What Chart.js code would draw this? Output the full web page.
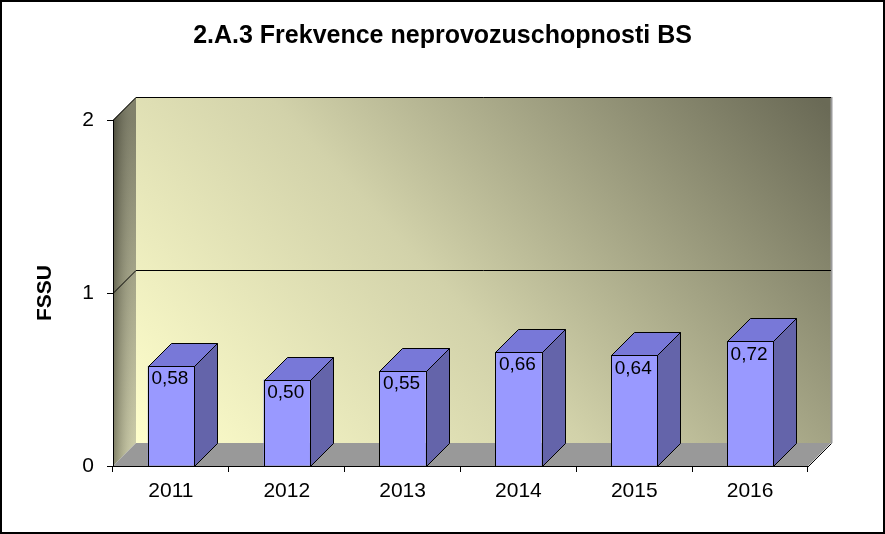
<!DOCTYPE html>
<html>
<head>
<meta charset="utf-8">
<script src="https://cdn.jsdelivr.net/npm/chart.js@4"></script>
<style>
  html, body { margin: 0; padding: 0; background: #fff; }
  canvas { display: block; }
</style>
</head>
<body>
<canvas id="c" width="885" height="534"></canvas>
<script>
const categories = ['2011', '2012', '2013', '2014', '2015', '2016'];
const values = [0.58, 0.50, 0.55, 0.66, 0.64, 0.72];
const yTicks = [0, 1, 2];
const chartTitle = '2.A.3 Frekvence neprovozuschopnosti BS';
const yAxisTitle = 'FSSU';

const FONT = "'Liberation Sans', Arial, sans-serif";
const DEPTH = 23;

const threeD = {
  id: 'threeD',
  beforeDraw(chart) {
    const ctx = chart.ctx;
    const a = chart.chartArea;
    const y = chart.scales.y;
    const L = a.left, R = a.right, T = a.top, B = a.bottom, D = DEPTH;
    ctx.save();
    ctx.fillStyle = '#fff';
    ctx.fillRect(0, 0, chart.width, chart.height);

    // back wall
    let g = ctx.createLinearGradient(L + D, B - D, R + D - 150, T - D - 150);
    g.addColorStop(0, '#FFFFCC');
    g.addColorStop(0.45, '#D2D2AA');
    g.addColorStop(1, '#6A6A56');
    ctx.fillStyle = g;
    ctx.fillRect(L + D, T - D, R - L, B - T);

    // left wall
    g = ctx.createLinearGradient(0, T, 0, B);
    g.addColorStop(0, '#6A6A55');
    g.addColorStop(1, '#C8C8A2');
    ctx.beginPath();
    ctx.moveTo(L, T); ctx.lineTo(L + D, T - D); ctx.lineTo(L + D, B - D); ctx.lineTo(L, B); ctx.closePath();
    ctx.fillStyle = g; ctx.fill();
    g = ctx.createLinearGradient(L, 0, L + D, 0);
    g.addColorStop(0, 'rgba(40,40,30,0.45)');
    g.addColorStop(1, 'rgba(255,255,230,0.15)');
    ctx.fillStyle = g; ctx.fill();

    // floor
    ctx.beginPath();
    ctx.moveTo(L, B); ctx.lineTo(L + D, B - D); ctx.lineTo(R + D, B - D); ctx.lineTo(R, B); ctx.closePath();
    ctx.fillStyle = '#999999'; ctx.fill();
    ctx.beginPath();
    ctx.moveTo(R + 0.5, B + 0.5); ctx.lineTo(R + D + 0.5, B - D + 0.5);
    ctx.strokeStyle = '#000'; ctx.lineWidth = 1; ctx.stroke();

    // back wall right edge
    ctx.beginPath();
    ctx.moveTo(R + D + 0.5, T - D); ctx.lineTo(R + D + 0.5, B - D);
    ctx.strokeStyle = '#9a9a9a'; ctx.lineWidth = 2; ctx.stroke();

    // gridlines
    ctx.strokeStyle = '#000'; ctx.lineWidth = 1;
    yTicks.forEach(v => {
      if (v === 0) return;
      const yp = Math.round(y.getPixelForValue(v)) + 0.5;
      ctx.beginPath();
      ctx.moveTo(L, yp); ctx.lineTo(L + D, yp - D); ctx.lineTo(R + D, yp - D);
      ctx.stroke();
    });
    ctx.restore();
  },
  afterDatasetsDraw(chart) {
    const ctx = chart.ctx;
    const D = DEPTH;
    const meta = chart.getDatasetMeta(0);
    ctx.save();
    ctx.lineWidth = 1;
    ctx.strokeStyle = '#000';
    ctx.lineJoin = 'round';
    meta.data.forEach((bar, i) => {
      const p = bar.getProps(['x', 'y', 'base', 'width'], true);
      const l = Math.round(p.x - p.width / 2) + 0.5;
      const r = Math.round(p.x + p.width / 2) + 0.5;
      const t = Math.round(p.y) + 0.5;
      const b = Math.round(p.base) + 0.5;
      // side
      ctx.beginPath();
      ctx.moveTo(r, t); ctx.lineTo(r + D, t - D); ctx.lineTo(r + D, b - D); ctx.lineTo(r, b); ctx.closePath();
      ctx.fillStyle = '#6464AA'; ctx.fill(); ctx.stroke();
      // top
      ctx.beginPath();
      ctx.moveTo(l, t); ctx.lineTo(l + D, t - D); ctx.lineTo(r + D, t - D); ctx.lineTo(r, t); ctx.closePath();
      ctx.fillStyle = '#7878D8'; ctx.fill(); ctx.stroke();
      // front outline
      ctx.strokeRect(l, t, r - l, b - t);
      // label
      ctx.fillStyle = '#000';
      ctx.font = '19px ' + FONT;
      ctx.textAlign = 'center';
      ctx.textBaseline = 'middle';
      ctx.fillText(values[i].toFixed(2).replace('.', ','), p.x - 1, p.y + 13);
    });
    ctx.restore();
  },
  afterDraw(chart) {
    const ctx = chart.ctx;
    ctx.save();
    ctx.strokeStyle = '#000';
    ctx.lineWidth = 2;
    ctx.strokeRect(1, 1, chart.width - 2, chart.height - 2);
    ctx.restore();
  }
};

new Chart(document.getElementById('c'), {
  type: 'bar',
  data: {
    labels: categories,
    datasets: [{
      data: values,
      backgroundColor: '#9999FF',
      borderWidth: 0,
      barPercentage: 0.4,
      categoryPercentage: 1.0
    }]
  },
  options: {
    responsive: false,
    animation: false,
    devicePixelRatio: 1,
    layout: { padding: 0 },
    plugins: {
      legend: { display: false },
      tooltip: { enabled: false },
      title: {
        display: true,
        text: chartTitle,
        color: '#000',
        font: { family: FONT, size: 25, weight: 'bold', lineHeight: 1.2 },
        padding: { top: 21, bottom: 69 }
      }
    },
    scales: {
      x: {
        afterFit(s) { s.height = 68; },
        grid: { display: true, drawOnChartArea: false, drawTicks: true, tickLength: 6, color: '#000', offset: true },
        border: { display: true, color: '#000', width: 1 },
        ticks: { color: '#000', font: { family: FONT, size: 21 }, padding: 7, maxRotation: 0 }
      },
      y: {
        min: 0, max: 2,
        afterFit(s) { s.width = 113; },
        afterBuildTicks(s) { s.ticks = yTicks.map(v => ({ value: v })); },
        grid: { display: true, drawOnChartArea: false, drawTicks: true, tickLength: 6, color: '#000' },
        border: { display: true, color: '#000', width: 1 },
        ticks: { color: '#000', font: { family: FONT, size: 21 }, padding: 13, callback: v => String(v) },
        title: {
          display: true, text: yAxisTitle, color: '#000',
          font: { family: FONT, size: 21, weight: 'bold', lineHeight: 1.2 },
          padding: { top: 33, bottom: 0 }
        }
      },
      spacer: {
        type: 'linear',
        position: 'right',
        display: true,
        afterFit(s) { s.width = 77; },
        grid: { display: false, drawTicks: false },
        border: { display: false },
        ticks: { display: false }
      }
    }
  },
  plugins: [threeD]
});
</script>
</body>
</html>
